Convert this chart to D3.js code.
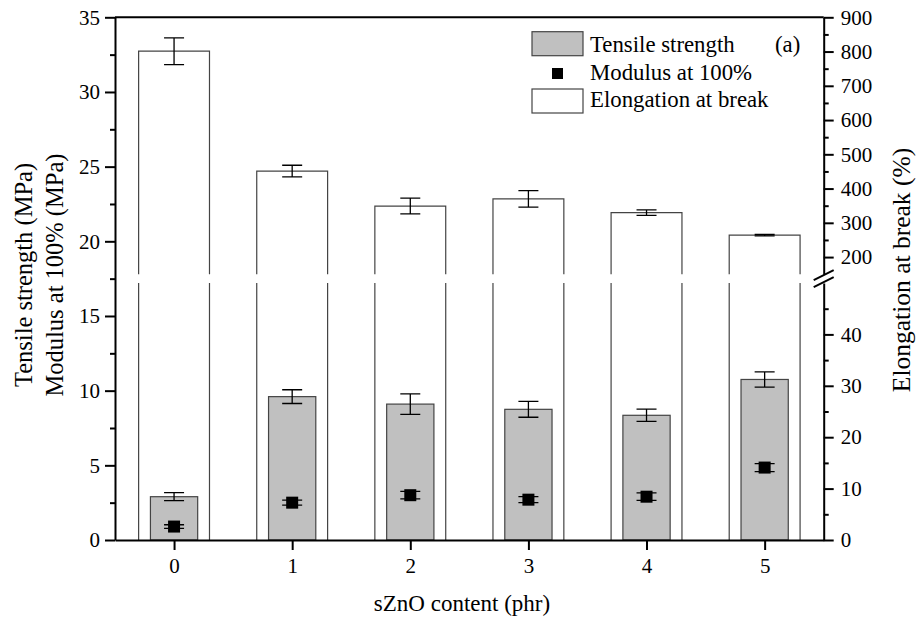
<!DOCTYPE html>
<html>
<head>
<meta charset="utf-8">
<script src="https://cdn.jsdelivr.net/npm/d3@7"></script>
<style>
	body { margin: 0; background: #fff; }
	svg { display: block; font-family: "Liberation Serif", "Times New Roman", serif; }
</style>
</head>
<body>
<div id="chart"></div>
<script>
const content = [0, 1, 2, 3, 4, 5];
const tensile = [2.9, 9.6, 9.1, 8.75, 8.35, 10.75];
const tensile_err = [0.27, 0.46, 0.69, 0.53, 0.41, 0.51];
const modulus = [0.9, 2.5, 3.0, 2.7, 2.9, 4.85];
const modulus_err = [0.12, 0.17, 0.25, 0.2, 0.25, 0.27];
const elongation = [801, 451, 349, 370, 330, 264];
const elongation_err = [39, 17, 23, 24, 8, 2];

const left_ticks = [0, 5, 10, 15, 20, 25, 30, 35];
const low_ticks = [0, 10, 20, 30, 40];
const high_ticks = [200, 300, 400, 500, 600, 700, 800, 900];

const W = 920, H = 626;
const L = 115, R = 823.7, T = 17.3, B = 540;
const BREAK_LOW = 283, BREAK_HIGH = 274.2;

const svg = d3.select('#chart').append('svg')
	.attr('width', W)
	.attr('height', H);

const x = d3.scaleLinear().domain([-0.5, 5.5]).range([L, R]);
const yl = d3.scaleLinear().domain([0, 35]).range([B, T]);
const ylow = d3.scaleLinear().domain([0, 50]).range([B, BREAK_LOW]);
const yhigh = d3.scaleLinear().domain([150, 900]).range([BREAK_HIGH, T]);

const step = x(1) - x(0);
const wide = step * 0.6, narrow = step * 0.4;

const rows = content.map((c, i) => ({
	c: c,
	ts: tensile[i], tse: tensile_err[i],
	m: modulus[i], me: modulus_err[i],
	e: elongation[i], ee: elongation_err[i]
}));

// elongation bars, split over the broken right axis
const eg = svg.append('g')
	.attr('fill', '#fff')
	.attr('stroke', '#444')
	.attr('stroke-width', 1.2);

eg.selectAll('path.high')
	.data(rows)
	.enter().append('path')
	.attr('class', 'high')
	.attr('d', d => {
		const x0 = x(d.c) - wide / 2, x1 = x(d.c) + wide / 2;
		return `M${x0},${yhigh(150)}V${yhigh(d.e)}H${x1}V${yhigh(150)}`;
	});

eg.selectAll('path.low')
	.data(rows)
	.enter().append('path')
	.attr('class', 'low')
	.attr('d', d => {
		const x0 = x(d.c) - wide / 2, x1 = x(d.c) + wide / 2;
		return `M${x0},${ylow(0)}V${ylow(50)}M${x1},${ylow(50)}V${ylow(0)}`;
	});

function errbar(g, data, cx, lo, hi, cap) {
	g.selectAll(null)
		.data(data)
		.enter().append('path')
		.attr('fill', 'none')
		.attr('stroke', '#000')
		.attr('stroke-width', 1.3)
		.attr('d', d => {
			const c = cx(d), a = lo(d), b = hi(d);
			return `M${c},${a}V${b}M${c - cap / 2},${a}H${c + cap / 2}M${c - cap / 2},${b}H${c + cap / 2}`;
		});
};

errbar(svg.append('g'), rows, d => x(d.c), d => yhigh(d.e - d.ee), d => yhigh(d.e + d.ee), 20);

// tensile strength bars
svg.append('g').selectAll('rect')
	.data(rows)
	.enter().append('rect')
	.attr('x', d => x(d.c) - narrow / 2)
	.attr('y', d => yl(d.ts))
	.attr('width', narrow)
	.attr('height', d => yl(0) - yl(d.ts))
	.attr('fill', '#c0c0c0')
	.attr('stroke', '#444')
	.attr('stroke-width', 1.2);

errbar(svg.append('g'), rows, d => x(d.c), d => yl(d.ts - d.tse), d => yl(d.ts + d.tse), 20);

// modulus points
errbar(svg.append('g'), rows, d => x(d.c), d => yl(d.m - d.me), d => yl(d.m + d.me), 20);

svg.append('g').selectAll('rect')
	.data(rows)
	.enter().append('rect')
	.attr('x', d => x(d.c) - 6)
	.attr('y', d => yl(d.m) - 6)
	.attr('width', 12)
	.attr('height', 12)
	.attr('fill', '#000');

// axes
function style_axis(g, size) {
	g.selectAll('path.domain').attr('stroke', '#000').attr('stroke-width', 2);
	g.selectAll('.tick line').attr('stroke', '#000').attr('stroke-width', 2);
	g.selectAll('.tick text')
		.attr('fill', '#000')
		.style('font-family', '"Liberation Serif", "Times New Roman", serif')
		.style('font-size', size + 'px');
};

function minor(axis, values, at) {
	const g = svg.append('g')
		.attr('transform', at)
		.call(axis.tickValues(values).tickSize(5).tickSizeOuter(0).tickFormat(''));
	g.select('path.domain').remove();
	g.selectAll('.tick line').attr('stroke', '#000').attr('stroke-width', 2);
};

const bottom = svg.append('g')
	.attr('transform', `translate(0,${B})`)
	.call(d3.axisBottom(x).tickValues(content).tickFormat(d3.format('d')).tickSize(10).tickSizeOuter(0).tickPadding(8));
style_axis(bottom, 21);

svg.append('line')
	.attr('x1', L).attr('x2', R)
	.attr('y1', T).attr('y2', T)
	.attr('stroke', '#000')
	.attr('stroke-width', 2);

const left = svg.append('g')
	.attr('transform', `translate(${L},0)`)
	.call(d3.axisLeft(yl).tickValues(left_ticks).tickSize(10).tickSizeOuter(0).tickPadding(5));
style_axis(left, 21);
minor(d3.axisLeft(yl), d3.range(2.5, 35, 5), `translate(${L},0)`);

const rlow = svg.append('g')
	.attr('transform', `translate(${R},0)`)
	.call(d3.axisRight(ylow).tickValues(low_ticks).tickSize(10).tickSizeOuter(0).tickPadding(7));
style_axis(rlow, 21);
minor(d3.axisRight(ylow), [5, 15, 25, 35, 45], `translate(${R},0)`);

const rhigh = svg.append('g')
	.attr('transform', `translate(${R},0)`)
	.call(d3.axisRight(yhigh).tickValues(high_ticks).tickSize(10).tickSizeOuter(0).tickPadding(7));
style_axis(rhigh, 21);
minor(d3.axisRight(yhigh), d3.range(250, 900, 100), `translate(${R},0)`);

// break marks
const bm = (BREAK_LOW + BREAK_HIGH) / 2;
svg.append('g')
	.attr('stroke', '#000')
	.attr('stroke-width', 2)
	.selectAll('line')
	.data([-3.5, 3.5])
	.enter().append('line')
	.attr('x1', R - 10).attr('x2', R + 10)
	.attr('y1', d => bm + d + 5).attr('y2', d => bm + d - 5);

// titles
svg.append('text')
	.attr('x', 462)
	.attr('y', 611)
	.attr('text-anchor', 'middle')
	.style('font-size', '23px')
	.text('sZnO content (phr)');

const ytitle = svg.append('g')
	.attr('transform', 'translate(0,275) rotate(-90)')
	.style('font-size', '24.5px')
	.attr('text-anchor', 'middle');
ytitle.append('text').attr('x', 0).attr('y', 32).text('Tensile strength (MPa)');
ytitle.append('text').attr('x', 0).attr('y', 63).text('Modulus at 100% (MPa)');

svg.append('text')
	.attr('transform', 'translate(910,270) rotate(-90)')
	.attr('text-anchor', 'middle')
	.style('font-size', '25.5px')
	.text('Elongation at break (%)');

// legend
const legend = svg.append('g').style('font-size', '22.8px');

legend.append('rect')
	.attr('x', 532).attr('y', 31.7)
	.attr('width', 51).attr('height', 24)
	.attr('fill', '#c0c0c0').attr('stroke', '#444').attr('stroke-width', 1.2);
legend.append('rect')
	.attr('x', 552).attr('y', 68)
	.attr('width', 11).attr('height', 11)
	.attr('fill', '#000');
legend.append('rect')
	.attr('x', 532).attr('y', 89)
	.attr('width', 51).attr('height', 24)
	.attr('fill', '#fff').attr('stroke', '#444').attr('stroke-width', 1.2);

legend.selectAll('text.item')
	.data(['Tensile strength', 'Modulus at 100%', 'Elongation at break'])
	.enter().append('text')
	.attr('class', 'item')
	.attr('x', 590)
	.attr('y', (d, i) => 52.3 + i * 27.5)
	.text(d => d);

legend.append('text')
	.attr('x', 775)
	.attr('y', 52.3)
	.text('(a)');
</script>
</body>
</html>
